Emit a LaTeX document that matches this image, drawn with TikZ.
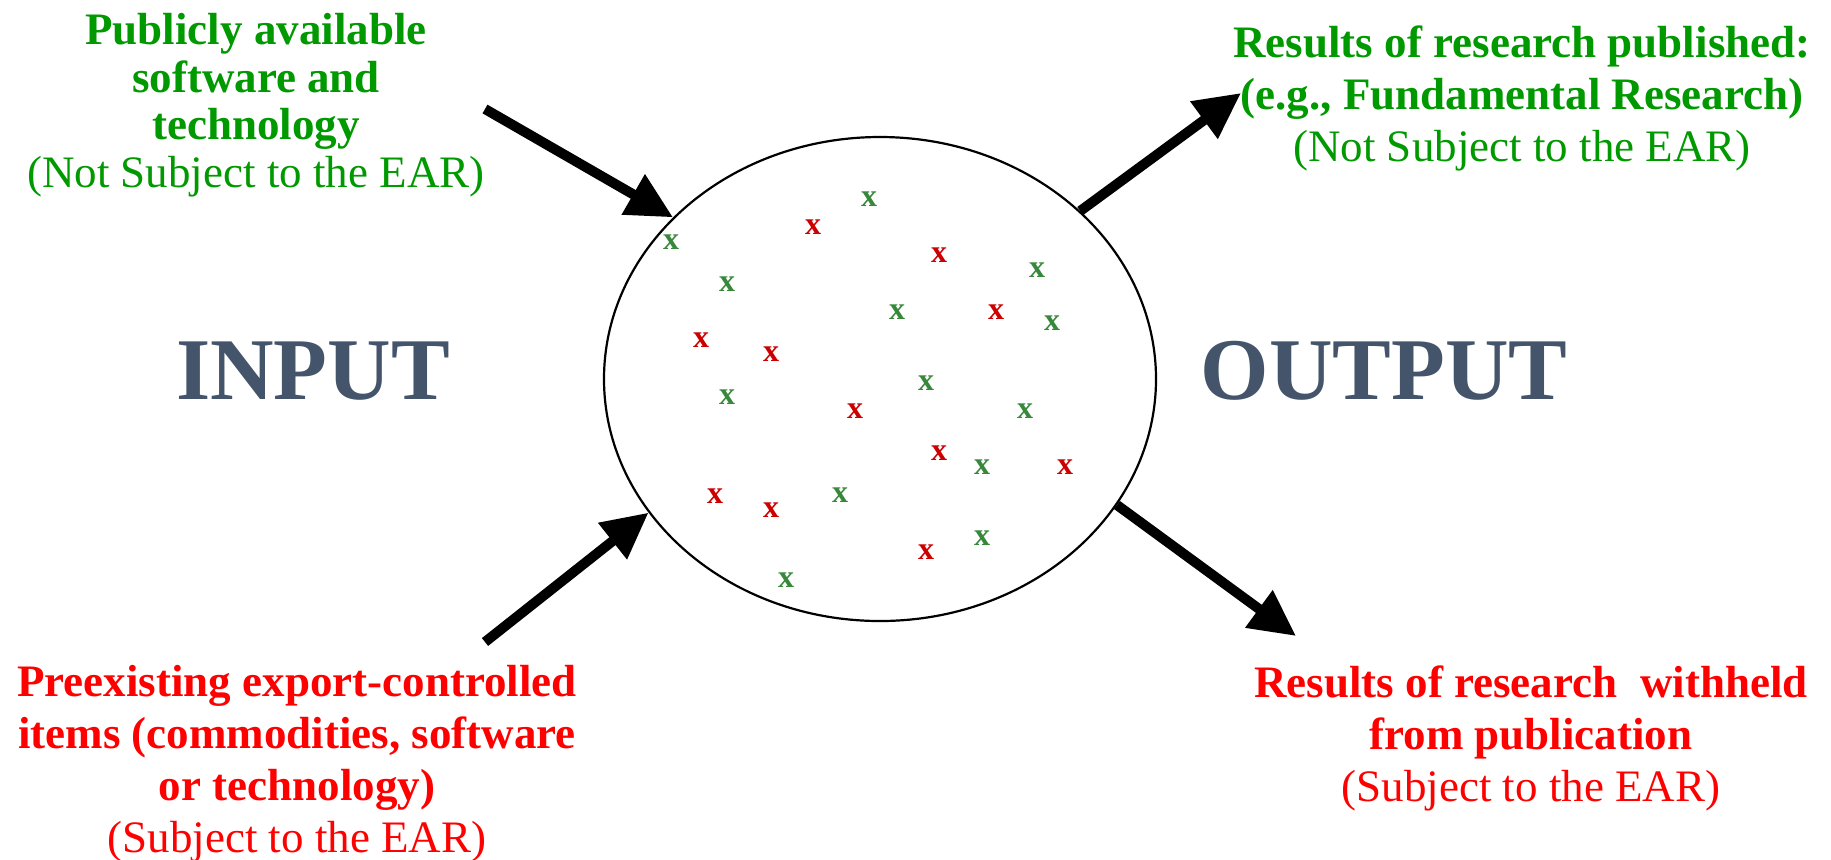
\documentclass[tikz,border=0pt]{standalone}
\usepackage{fontspec}
\setmainfont{Liberation Serif}
\usepackage{tikz}
\usetikzlibrary{arrows.meta, shapes.geometric}
\usepackage{xcolor}
\definecolor{pubgreen}{RGB}{0,153,0}
\definecolor{ctrlred}{RGB}{255,0,0}
\definecolor{markgreen}{RGB}{56,136,60}
\definecolor{markred}{RGB}{204,0,0}
\definecolor{slate}{RGB}{68,84,106}

\begin{document}
\begin{tikzpicture}[
    x=0.5pt, y=-0.5pt,
    txt/.style={align=center, inner sep=0pt, font=\fontsize{22.5}{26}\selectfont\bfseries},
    big/.style={text=slate, font=\fontsize{44}{50}\selectfont\bfseries},
    item/.style={inner sep=0pt, font=\fontsize{16}{16}\selectfont\bfseries},
    arrow/.style={-{Triangle[length=23pt, width=22pt]}, line width=5pt}
  ]
    \useasboundingbox (0,0) rectangle (1831,859);

    % the pool of items
    \node[ellipse, draw, line width=1.1pt, minimum width=276pt, minimum height=242pt,
          inner sep=0pt] (pool) at (880,379) {};

    % texts round it
    \node[txt, text=pubgreen, font=\fontsize{22.5}{23.8}\selectfont\bfseries] (pubsw) at (256,105)
          {Publicly available\\software and\\technology\\{\mdseries(Not Subject to the EAR)}};
    \node[txt, text=pubgreen] (pubres) at (1522,98)
          {Results of research published:\\(e.g., Fundamental Research)\\{\mdseries(Not Subject to the EAR)}};
    \node[txt, text=ctrlred] (preex) at (297,764)
          {Preexisting export-controlled\\items (commodities, software\\or technology)\\{\mdseries(Subject to the EAR)}};
    \node[txt, text=ctrlred] (withheld) at (1531,738)
          {Results of research\ \ withheld\\from publication\\{\mdseries(Subject to the EAR)}};

    \node[big] (input)  at (313,371) {INPUT};
    \node[big] (output) at (1384,371) {OUTPUT};

    % green and red items
    \foreach \px/\py [count=\i] in {671/242, 727/284, 869/199, 897/312, 1037/270, 1052/323,
        727/397, 926/383, 1025/411, 982/467, 840/495, 982/538, 786/580}
      \node[item, text=markgreen] (g\i) at (\px,\py) {x};
    \foreach \px/\py [count=\i] in {813/227, 939/255, 996/312, 701/340, 771/354, 855/411,
        939/453, 1065/467, 715/496, 771/510, 926/552}
      \node[item, text=markred] (r\i) at (\px,\py) {x};

    % arrows in and out
    \coordinate (intop) at (485,109);
    \coordinate (inbot) at (485,642);
    \coordinate (outtop) at (1241,93);
    \coordinate (outbot) at (1296,636);

    \draw[arrow] (intop) -- (pool.142.7);
    \draw[arrow] (inbot) -- (pool.210.9);
    \draw[arrow] (pool.40.5) -- (outtop);
    \draw[arrow] (pool.-28) -- (outbot);
  \end{tikzpicture}
\end{document}
